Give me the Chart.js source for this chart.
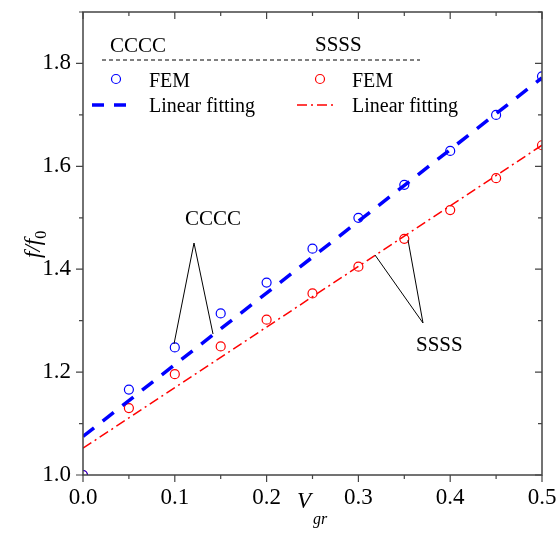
<!DOCTYPE html>
<html>
<head>
<meta charset="utf-8">
<script src="https://cdn.jsdelivr.net/npm/chart.js@4"></script>
<style>
  html, body { margin: 0; padding: 0; background: #fff; }
</style>
</head>
<body>
<canvas id="chart" width="558" height="533"></canvas>
<script>
// volume fraction V_gr
const vgr = [0, 0.05, 0.1, 0.15, 0.2, 0.25, 0.3, 0.35, 0.4, 0.45, 0.5];
// FEM frequency ratio f/f0
const cccc = [1.0, 1.166, 1.248, 1.314, 1.374, 1.44, 1.5, 1.564, 1.63, 1.70, 1.775];
const ssss = [1.0, 1.13, 1.196, 1.25, 1.302, 1.353, 1.405, 1.459, 1.515, 1.577, 1.641];
// linear fitting end points
const fitX = [0, 0.5];
const fitCCCC = [1.075, 1.772];
const fitSSSS = [1.052, 1.641];

const serif = "Liberation Serif";
const pts = (xs, ys) => xs.map((v, i) => ({x: v, y: ys[i]}));

const decor = {
    id: "decor",
    afterDraw(chart) {
        const {ctx, chartArea: a, scales: {x, y}} = chart;
        ctx.save();
        // frame
        ctx.strokeStyle = "#444";
        ctx.lineWidth = 1.5;
        ctx.strokeRect(a.left, a.top, a.right - a.left, a.bottom - a.top);
        // ticks: out on left/bottom, in on top/right
        ctx.lineWidth = 1.2;
        ctx.beginPath();
        x.ticks.forEach(t => {
            const px = x.getPixelForValue(t.value);
            const len = t.label !== "" ? 7 : 4;
            ctx.moveTo(px, a.bottom); ctx.lineTo(px, a.bottom + len);
            ctx.moveTo(px, a.top); ctx.lineTo(px, a.top + len);
        });
        y.ticks.forEach(t => {
            const py = y.getPixelForValue(t.value);
            const len = t.label !== "" ? 7 : 4;
            ctx.moveTo(a.left, py); ctx.lineTo(a.left - len, py);
            ctx.moveTo(a.right, py); ctx.lineTo(a.right - len, py);
        });
        ctx.stroke();

        // annotation pointers
        ctx.strokeStyle = "#000";
        ctx.lineWidth = 1;
        ctx.beginPath();
        ctx.moveTo(194, 243); ctx.lineTo(174, 344);
        ctx.moveTo(194, 243); ctx.lineTo(213, 334);
        ctx.moveTo(423, 323); ctx.lineTo(375, 255);
        ctx.moveTo(423, 323); ctx.lineTo(408, 240);
        ctx.stroke();

        ctx.fillStyle = "#000";
        ctx.font = "21px " + serif;
        ctx.textBaseline = "alphabetic";
        ctx.textAlign = "left";
        ctx.fillText("CCCC", 185, 225);
        ctx.fillText("SSSS", 416, 351);

        // legend
        ctx.fillText("CCCC", 110, 52);
        ctx.fillText("SSSS", 315, 51);
        ctx.setLineDash([4, 3]);
        ctx.beginPath();
        ctx.moveTo(102, 60); ctx.lineTo(420, 60);
        ctx.stroke();
        ctx.setLineDash([]);

        ctx.font = "20px " + serif;
        ctx.fillText("FEM", 149, 87);
        ctx.fillText("Linear fitting", 149, 112);
        ctx.fillText("FEM", 352, 87);
        ctx.fillText("Linear fitting", 352, 112);

        ctx.lineWidth = 1.2;
        ctx.strokeStyle = "#0000ff";
        ctx.beginPath(); ctx.arc(116, 79, 4.5, 0, Math.PI * 2); ctx.stroke();
        ctx.strokeStyle = "#ff0000";
        ctx.beginPath(); ctx.arc(320, 79, 4.5, 0, Math.PI * 2); ctx.stroke();

        ctx.strokeStyle = "#0000ff";
        ctx.lineWidth = 3.5;
        ctx.setLineDash([12, 10]);
        ctx.beginPath(); ctx.moveTo(92, 105); ctx.lineTo(132, 105); ctx.stroke();
        ctx.strokeStyle = "#ff0000";
        ctx.lineWidth = 1.5;
        ctx.setLineDash([10, 4, 2, 4]);
        ctx.beginPath(); ctx.moveTo(297, 105); ctx.lineTo(335, 105); ctx.stroke();
        ctx.setLineDash([]);

        // axis titles
        ctx.fillStyle = "#000";
        ctx.font = "italic 23px " + serif;
        ctx.fillText("V", 297, 508);
        ctx.font = "italic 16px " + serif;
        ctx.fillText("gr", 313, 524);

        ctx.save();
        ctx.translate(40, 258);
        ctx.rotate(-Math.PI / 2);
        ctx.font = "italic 23px " + serif;
        ctx.fillText("f/f", 0, 0);
        const w = ctx.measureText("f/f").width;
        ctx.font = "16px " + serif;
        ctx.fillText("0", w, 6);
        ctx.restore();

        ctx.restore();
    }
};

new Chart(document.getElementById("chart"), {
    type: "scatter",
    data: {
        datasets: [
            {
                data: pts(vgr, cccc),
                borderColor: "#0000ff",
                backgroundColor: "rgba(0,0,0,0)",
                borderWidth: 1.2,
                pointRadius: 4.5,
                showLine: false,
                clip: 0,
            },
            {
                data: pts(fitX, fitCCCC),
                borderColor: "#0000ff",
                borderWidth: 3.5,
                borderDash: [14, 11],
                pointRadius: 0,
                showLine: true,
                clip: 0,
            },
            {
                data: pts(vgr, ssss),
                borderColor: "#ff0000",
                backgroundColor: "rgba(0,0,0,0)",
                borderWidth: 1.2,
                pointRadius: 4.5,
                showLine: false,
                clip: 0,
            },
            {
                data: pts(fitX, fitSSSS),
                borderColor: "#ff0000",
                borderWidth: 1.5,
                borderDash: [10, 4, 2, 4],
                pointRadius: 0,
                showLine: true,
                clip: 0,
            },
        ],
    },
    options: {
        responsive: false,
        animation: false,
        layout: { padding: { top: 12, right: 16, left: 0, bottom: 0 } },
        plugins: { legend: { display: false }, tooltip: { enabled: false } },
        scales: {
            x: {
                type: "linear",
                min: 0,
                max: 0.5,
                grid: { display: false, drawTicks: false },
                border: { display: false },
                afterFit: s => { s.height = 58; s.paddingLeft = 0; s.paddingRight = 0; },
                ticks: {
                    stepSize: 0.05,
                    padding: 9,
                    color: "#000",
                    font: { family: serif, size: 23 },
                    callback: v => {
                        const k = Math.round(v * 100);
                        return k % 10 === 0 ? (k / 100).toFixed(1) : "";
                    },
                },
            },
            y: {
                type: "linear",
                min: 1.0,
                max: 1.9,
                grid: { display: false, drawTicks: false },
                border: { display: false },
                afterFit: s => { s.width = 83; s.paddingTop = 0; s.paddingBottom = 0; },
                ticks: {
                    stepSize: 0.1,
                    padding: 12,
                    color: "#000",
                    font: { family: serif, size: 23 },
                    callback: v => {
                        const k = Math.round(v * 10);
                        return k % 2 === 0 && k < 19 ? (k / 10).toFixed(1) : "";
                    },
                },
            },
        },
    },
    plugins: [decor],
});
</script>
</body>
</html>
